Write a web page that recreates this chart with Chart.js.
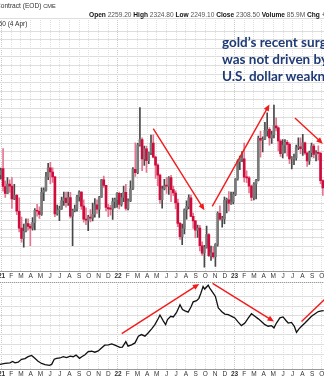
<!DOCTYPE html>
<html>
<head>
<meta charset="utf-8">
<script src="https://cdn.jsdelivr.net/npm/chart.js@4.4.1/dist/chart.umd.min.js"></script>
<style>
  html, body { margin: 0; padding: 0; background: #fff; overflow: hidden; }
  #wrap { position: relative; width: 324px; height: 379px; overflow: hidden; }
  canvas { position: absolute; left: 0; }
  #goldChart { top: 0; }
  #usdChart { top: 281px; }
  #head { position: absolute; left: 0; top: 1px; width: 340px; font-family: "Liberation Sans", Arial, sans-serif;
          font-size: 6.6px; line-height: 9px; color: #333; white-space: nowrap; }
  #head div { height: 9px; overflow: visible; }
  #head b { color: #111; }
  #head .vals { color: #555; }
  .note { position: absolute; left: 222px; top: 34px; font-family: Lato, sans-serif; font-weight: bold;
          font-size: 13.5px; line-height: 17px; color: #1f3b76; white-space: nowrap; }
</style>
</head>
<body>
<div id="wrap">
  <canvas id="goldChart" width="324" height="282"></canvas>
  <canvas id="usdChart" width="324" height="100"></canvas>
  <div id="head">
    <div style="margin-left:-4px;">Contract (EOD) <span style="font-size:5.6px">CME</span></div>
    <div class="vals" style="margin-left:89px;"><b>Open</b> 2259.20 <b>High</b> 2324.80 <b>Low</b> 2249.10 <b>Close</b> 2308.50 <b>Volume</b> 85.9M <b>Chg</b> +47.70 (+2.11%)</div>
    <div style="margin-left:-18px;">2308.50 (4 Apr)</div>
  </div>
  <div class="note">gold’s recent surge<br>was not driven by<br>U.S. dollar weakness</div>
</div>
<script>
// gold weekly candles, first week 28 Dec 2020
const goldOpen = [
  1883,1901,1849,1829,1856,1850,1813,1823,1777,1728,1698,1719,1741,1733,1728,1744,1780,1777,1768,1832,
  1838,1877,1903,1891,1877,1769,1781,1784,1808,1815,1802,1817,1763,1779,1784,1819,1833,1792,1754,1751,
  1760,1757,1768,1796,1783,1818,1868,1852,1788,1784,1783,1805,1811,
  1829,1797,1817,1832,1785,1807,1842,1899,1889,1970,1985,1929,1958,1924,1947,1975,1934,1911,1882,1811,
  1842,1851,1850,1875,1840,1830,1801,1742,1703,1727,1781,1791,1816,1762,1749,1722,1728,1677,1655,1672,
  1709,1648,1656,1645,1681,1771,1754,1755,1809,1810,1800,1804,
  1826,1870,1921,1928,1929,1876,1874,1850,1817,1856,1867,1989,1983,1986,2011,2015,1990,1999,2025,2019,
  1981,1944,1969,1977,1971,1929,1930,1932,1962,1964,1959,1976,1946,1923,1947,1966,1942,1946,1945,1866
];
const goldHigh = [
  1902,1959,1865,1875,1868,1875,1855,1826,1816,1760,1740,1755,1755,1740,1759,1785,1797,1790,1845,1845,
  1890,1916,1919,1903,1878,1795,1792,1818,1833,1833,1833,1832,1783,1795,1823,1836,1834,1810,1787,1765,
  1782,1801,1814,1810,1820,1870,1879,1852,1797,1794,1815,1815,1831,
  1833,1829,1850,1855,1813,1865,1904,1976,1974,2078,1990,1966,1966,1949,1998,1999,1937,1915,1885,1850,
  1870,1875,1878,1881,1850,1836,1812,1745,1740,1784,1807,1825,1824,1772,1751,1737,1736,1688,1678,1734,
  1712,1676,1675,1683,1775,1793,1762,1818,1815,1834,1833,1833,
  1872,1926,1937,1950,1975,1894,1878,1853,1860,1870,1995,2010,1993,2035,2063,2020,2010,2085,2048,2022,
  1985,1985,1985,1983,1976,1936,1943,1969,1990,1990,2000,1978,1949,1952,1975,1971,1953,1967,1948,1868
];
const goldLow = [
  1870,1835,1817,1828,1832,1785,1811,1767,1717,1687,1673,1717,1722,1677,1722,1723,1763,1756,1765,1808,
  1835,1869,1857,1861,1761,1766,1750,1782,1794,1789,1794,1758,1677,1775,1777,1806,1782,1745,1738,1721,
  1746,1749,1760,1771,1759,1817,1846,1778,1761,1766,1753,1787,1788,
  1784,1792,1805,1780,1781,1805,1840,1878,1886,1966,1895,1910,1890,1915,1941,1932,1872,1851,1800,1786,
  1839,1829,1826,1805,1822,1784,1732,1695,1680,1711,1754,1784,1761,1727,1700,1701,1662,1649,1615,1670,
  1645,1634,1641,1617,1676,1751,1731,1741,1772,1778,1797,1798,
  1822,1867,1898,1921,1862,1860,1830,1808,1810,1813,1865,1934,1949,1985,1995,1969,1974,1990,2010,1952,
  1936,1932,1946,1937,1915,1900,1912,1925,1956,1944,1939,1942,1907,1913,1935,1932,1923,1925,1857,1823
];
const goldClose = [
  1895,1849,1829,1856,1850,1813,1823,1777,1728,1698,1719,1741,1733,1728,1744,1780,1777,1768,1832,1838,
  1877,1903,1891,1877,1769,1781,1784,1808,1815,1802,1817,1763,1779,1784,1819,1833,1792,1754,1751,1760,
  1757,1768,1796,1783,1818,1868,1852,1788,1784,1783,1805,1811,1829,
  1797,1817,1832,1785,1807,1842,1899,1889,1970,1985,1929,1958,1924,1947,1975,1934,1911,1882,1811,1842,
  1851,1850,1875,1840,1830,1801,1742,1703,1727,1781,1791,1816,1762,1749,1722,1728,1677,1655,1672,1709,
  1648,1656,1645,1681,1771,1754,1755,1809,1810,1800,1804,1826,
  1870,1921,1928,1929,1876,1874,1850,1817,1856,1867,1989,1983,1986,2011,2015,1990,1999,2025,2019,1981,
  1944,1969,1977,1971,1929,1930,1932,1962,1964,1959,1976,1946,1923,1947,1966,1942,1946,1945,1866,1845
];

// U.S. dollar index, lower panel
const usdDates = [
  '2020-12-27','2021-01-12','2021-01-28','2021-02-05','2021-02-12','2021-02-21','2021-03-03','2021-03-14','2021-03-24','2021-04-04',
  '2021-04-14','2021-04-24','2021-05-05','2021-05-16','2021-05-30','2021-06-06','2021-06-14','2021-06-21','2021-07-02','2021-07-12',
  '2021-07-23','2021-08-03','2021-08-13','2021-08-22','2021-09-02','2021-09-09','2021-09-19','2021-09-29','2021-10-10','2021-10-20',
  '2021-10-31','2021-11-10','2021-11-20','2021-12-01','2021-12-12','2021-12-22','2022-01-07','2022-01-15','2022-01-26','2022-02-02',
  '2022-02-12','2022-02-22','2022-03-04','2022-03-14','2022-03-25','2022-04-04','2022-04-15','2022-04-25','2022-05-06','2022-05-11',
  '2022-05-22','2022-05-29','2022-06-04','2022-06-14','2022-06-22','2022-07-02','2022-07-13','2022-07-21','2022-07-29','2022-08-08',
  '2022-08-17','2022-08-24','2022-09-04','2022-09-11','2022-09-17','2022-09-24','2022-09-29','2022-10-10','2022-10-15','2022-10-26',
  '2022-11-02','2022-11-11','2022-11-16','2022-11-21','2022-12-01','2022-12-12','2022-12-23','2023-01-02','2023-01-13','2023-01-23',
  '2023-02-03','2023-02-13','2023-02-22','2023-03-04','2023-03-15','2023-03-25','2023-04-05','2023-04-15','2023-04-25','2023-05-03',
  '2023-05-11','2023-05-22','2023-06-01','2023-06-10','2023-06-17','2023-06-27','2023-07-06','2023-07-13','2023-07-21','2023-07-29',
  '2023-08-09','2023-08-20','2023-08-30','2023-09-09','2023-09-20','2023-09-30','2023-10-07'
];
const usdValues = [
  89.8,90.1,90.3,90.7,90.3,90.5,91.4,91.6,92.2,92.6,
  91.7,90.8,90.1,89.7,89.5,89.8,91.4,91.7,91.8,92.2,
  91.9,92.4,92.2,92.7,91.7,92.2,92.8,93.8,93.9,93.6,
  94.0,94.9,95.8,95.9,96.2,95.8,95.1,95.2,96.9,95.5,
  95.9,96.5,98.6,99.1,98.6,99.6,100.9,102.2,104.2,105.2,
  103.3,102.2,103.8,104.8,104.6,106.0,108.4,106.9,106.5,106.1,
  107.7,109.3,109.7,110.4,112.0,114.1,113.3,114.5,113.6,112.0,
  111.0,107.4,106.9,106.3,105.5,105.3,104.8,104.3,103.0,101.9,
  102.7,104.3,105.6,104.8,104.0,103.2,102.2,101.7,101.9,101.2,
  102.7,104.3,104.6,103.5,102.7,102.9,101.7,99.8,100.9,101.7,
  102.7,103.8,104.8,105.5,106.3,106.5,106.6
];

// red trend arrows: [from date, from value, to date, to value]
const goldArrows = [
  ['2022-04-20', 2017, '2022-09-28', 1780],
  ['2022-10-23', 1791, '2023-04-19', 2087],
  ['2023-07-08', 2048, '2023-10-04', 1973]
];
const usdArrows = [
  ['2022-01-13', 99.4, '2022-09-12', 114.9],
  ['2022-10-24', 115.1, '2023-05-03', 103.2],
  ['2023-07-29', 103.2, '2023-11-11', 113.1]
];

const monthLetters = ['', 'F', 'M', 'A', 'M', 'J', 'J', 'A', 'S', 'O', 'N', 'D'];
const monthTicks = [];
for (let m = 0; m <= 33; m++) monthTicks.push(m);

// months since 1 Jan 2021
function monthPos(s) {
  const [yy, mm, dd] = s.split('-').map(Number);
  const dim = new Date(Date.UTC(yy, mm, 0)).getUTCDate();
  return (yy - 2021) * 12 + (mm - 1) + (dd - 1) / dim;
}
const weekStart = Date.UTC(2020, 11, 30);
const weekX = goldClose.map((_, i) => monthPos(new Date(weekStart + i * 7 * 864e5).toISOString().slice(0, 10)));
const isUp = i => goldClose[i] >= goldOpen[i];

const arrowPlugin = {
  id: 'arrows',
  afterDatasetsDraw(chart, args, opts) {
    const {ctx, chartArea: a, scales: {x, y}} = chart;
    ctx.save();
    ctx.beginPath();
    ctx.rect(a.left, a.top, a.right - a.left, a.bottom - a.top);
    ctx.clip();
    ctx.strokeStyle = '#f21b1b';
    ctx.fillStyle = '#f21b1b';
    ctx.lineWidth = 1.4;
    opts.list.forEach(([d1, v1, d2, v2]) => {
      const x1 = x.getPixelForValue(monthPos(d1)), y1 = y.getPixelForValue(v1);
      const x2 = x.getPixelForValue(monthPos(d2)), y2 = y.getPixelForValue(v2);
      const ang = Math.atan2(y2 - y1, x2 - x1);
      ctx.beginPath();
      ctx.moveTo(x1, y1);
      ctx.lineTo(x2 - 4 * Math.cos(ang), y2 - 4 * Math.sin(ang));
      ctx.stroke();
      ctx.beginPath();
      ctx.moveTo(x2, y2);
      ctx.lineTo(x2 - 7 * Math.cos(ang - 0.42), y2 - 7 * Math.sin(ang - 0.42));
      ctx.lineTo(x2 - 7 * Math.cos(ang + 0.42), y2 - 7 * Math.sin(ang + 0.42));
      ctx.closePath();
      ctx.fill();
    });
    ctx.restore();
  }
};

// dotted top edge for the lower panel
const topEdge = {
  id: 'topEdge',
  afterDraw(chart, args, opts) {
    if (!opts.show) return;
    const {ctx, chartArea: a} = chart;
    ctx.save();
    ctx.strokeStyle = '#9a9a9a';
    ctx.setLineDash([1, 1]);
    ctx.beginPath();
    ctx.moveTo(a.left, a.top + 0.5);
    ctx.lineTo(a.right, a.top + 0.5);
    ctx.stroke();
    ctx.restore();
  }
};

function timeAxis() {
  return {
    type: 'linear', min: -0.155, max: 33.22, offset: false,
    afterBuildTicks: s => { s.ticks = monthTicks.map(v => ({value: v})); },
    afterFit: s => { s.paddingLeft = 0; s.paddingRight = 0; },
    grid: {
      offset: false, drawTicks: false,
      color: c => (c.tick && c.tick.value % 12 === 0) ? '#c8c8c8' : '#dedede'
    },
    border: {display: true, color: '#9a9a9a', dash: [1, 1]},
    ticks: {
      autoSkip: false, maxRotation: 0, padding: 1, color: '#333',
      font: c => ({family: 'Liberation Sans, Arial, sans-serif', size: 6.5,
                   weight: (c.tick && c.tick.value % 12 === 0) ? 'bold' : 'normal'}),
      callback: v => v % 12 === 0 ? String(21 + v / 12) : monthLetters[v % 12]
    }
  };
}
function valueAxis(min, max, step) {
  return {
    min: min, max: max, beginAtZero: false,
    afterFit: s => { s.width = 0; },
    grid: {color: '#dedede', drawTicks: false},
    border: {display: false},
    ticks: {display: false, stepSize: step}
  };
}

new Chart(document.getElementById('goldChart'), {
  type: 'bar',
  data: {
    datasets: [
      {
        label: 'wick',
        data: goldClose.map((_, i) => ({x: weekX[i], y: [goldLow[i], goldHigh[i]]})),
        backgroundColor: goldClose.map((_, i) => isUp(i) ? '#474747' : '#e57590'),
        barThickness: 1, grouped: false, order: 2
      },
      {
        label: 'body',
        data: goldClose.map((_, i) => ({x: weekX[i], y: [goldOpen[i], goldClose[i]]})),
        backgroundColor: goldClose.map((_, i) => isUp(i) ? '#7a7a7a' : '#d10a3c'),
        barThickness: 2, minBarLength: 1, grouped: false, order: 1
      }
    ]
  },
  options: {
    responsive: false, animation: false,
    layout: {padding: {top: 18, left: 0, right: 0, bottom: 1}},
    scales: {x: timeAxis(), y: valueAxis(1603, 2338, 25)},
    plugins: {legend: {display: false}, tooltip: {enabled: false},
              arrows: {list: goldArrows}, topEdge: {show: false}}
  },
  plugins: [arrowPlugin, topEdge]
});

new Chart(document.getElementById('usdChart'), {
  type: 'line',
  data: {
    datasets: [{
      label: 'U.S. Dollar Index',
      data: usdValues.map((v, i) => ({x: monthPos(usdDates[i]), y: v})),
      borderColor: '#111', borderWidth: 1.3, pointRadius: 0, tension: 0, fill: false
    }]
  },
  options: {
    responsive: false, animation: false,
    layout: {padding: {top: 1, left: 0, right: 0, bottom: 2}},
    scales: {x: timeAxis(), y: valueAxis(88.3, 115.5, 3)},
    plugins: {legend: {display: false}, tooltip: {enabled: false},
              arrows: {list: usdArrows}, topEdge: {show: true}}
  },
  plugins: [arrowPlugin, topEdge]
});
</script>
</body>
</html>
